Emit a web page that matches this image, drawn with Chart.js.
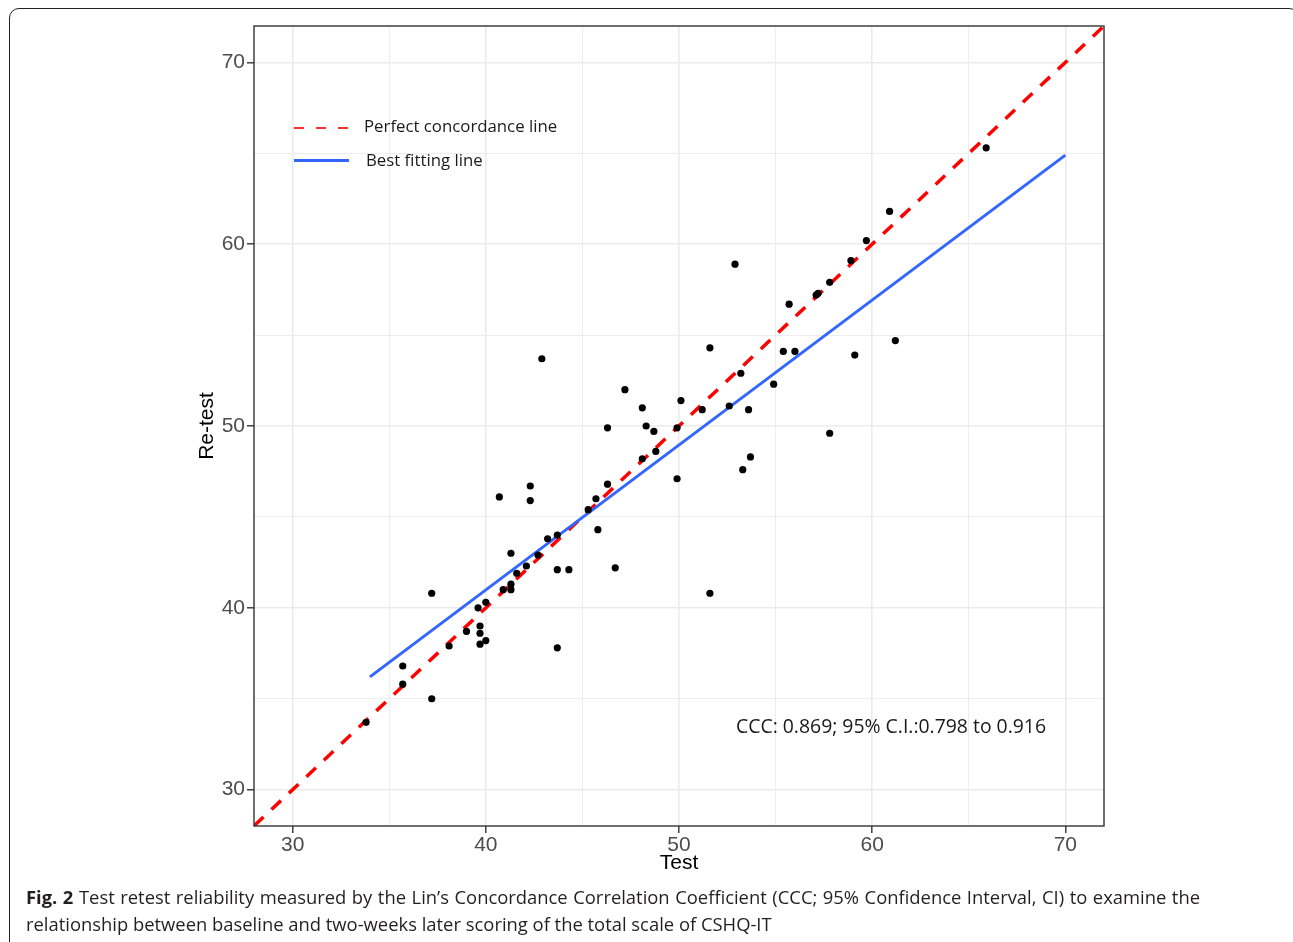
<!DOCTYPE html>
<html>
<head>
<meta charset="utf-8">
<script src="https://cdn.jsdelivr.net/npm/chart.js@4"></script>
<style>
  html, body { margin: 0; padding: 0; background: #fff; overflow: hidden; }
  #page { position: relative; width: 1293px; height: 942px; }
  #frame { position: absolute; left: 9px; top: 8px; width: 1290px; height: 960px; border: 1.5px solid #222; border-radius: 10px; box-sizing: border-box; }
  #chart { position: absolute; left: 0; top: 0; }
  .txt { position: absolute; font-family: "Open Sans", sans-serif; color: #1a1a1a; white-space: nowrap; }
  .swatch { position: absolute; width: 55px; }
  #caption { position: absolute; left: 26px; top: 883px; width: 1174px; font-family: "Open Sans", sans-serif; font-size: 18.4px; line-height: 27px; color: #231f20; text-align: justify; text-align-last: left; }
</style>
</head>
<body>
<div id="page">
  <div id="frame"></div>
  <canvas id="chart" width="1293" height="942"></canvas>
  <div class="swatch" style="left:294px; top:127px; height:2px; background:repeating-linear-gradient(to right, #ff3030 0 10px, rgba(255,255,255,0) 10px 22px);"></div>
  <div class="txt" style="left:364px; top:114px; font-size:16.8px;">Perfect concordance line</div>
  <div class="swatch" style="left:294px; top:159px; height:3px; background:#3366ff;"></div>
  <div class="txt" style="left:366px; top:148px; font-size:16.8px;">Best fitting line</div>
  <div class="txt" style="left:736px; top:712px; font-size:19.4px;">CCC: 0.869; 95% C.I.:0.798 to 0.916</div>
  <div id="caption"><b>Fig. 2</b> Test retest reliability measured by the Lin’s Concordance Correlation Coefficient (CCC; 95% Confidence Interval, CI) to examine the relationship between baseline and two-weeks later scoring of the total scale of CSHQ-IT</div>
</div>
<script>
// scores
const testScores = [33.8, 35.7, 35.7, 37.2, 37.2, 38.1, 39.0, 39.6, 39.7, 39.7, 39.7, 40.0, 40.0, 40.7, 40.9, 41.3, 41.3, 41.3, 41.6, 42.1, 42.3, 42.3, 42.7, 42.9, 43.2, 43.7, 43.7, 43.7, 44.3, 45.3, 45.7, 45.8, 46.3, 46.3, 46.7, 47.2, 48.1, 48.1, 48.3, 48.7, 48.8, 49.9, 49.9, 50.1, 51.2, 51.6, 51.6, 52.6, 52.9, 53.2, 53.3, 53.6, 53.7, 54.9, 55.4, 55.7, 56.0, 57.1, 57.2, 57.8, 57.8, 58.9, 59.1, 59.7, 60.9, 61.2, 65.9];
const retestScores = [33.7, 36.8, 35.8, 35.0, 40.8, 37.9, 38.7, 40.0, 39.0, 38.6, 38.0, 38.2, 40.3, 46.1, 41.0, 43.0, 41.0, 41.3, 41.9, 42.3, 46.7, 45.9, 42.9, 53.7, 43.8, 42.1, 44.0, 37.8, 42.1, 45.4, 46.0, 44.3, 49.9, 46.8, 42.2, 52.0, 51.0, 48.2, 50.0, 49.7, 48.6, 49.9, 47.1, 51.4, 50.9, 54.3, 40.8, 51.1, 58.9, 52.9, 47.6, 50.9, 48.3, 52.3, 54.1, 56.7, 54.1, 57.2, 57.3, 57.9, 49.6, 59.1, 53.9, 60.2, 61.8, 54.7, 65.3];

const concordX = [28, 72];
const concordY = [28, 72];
const fitX = [34, 70];
const fitY = [36.2, 64.9];

const axisMin = 28;
const axisMax = 72;
const tickStep = 5;
const labelStep = 10;

const toPoints = (xs, ys) => xs.map((x, i) => ({ x: x, y: ys[i] }));

const isMajor = (v) => Math.abs(v % labelStep) < 1e-6;

const panelBorder = {
    id: 'panelBorder',
    afterDraw(chart) {
        const a = chart.chartArea;
        const ctx = chart.ctx;
        ctx.save();
        ctx.strokeStyle = '#333333';
        ctx.lineWidth = 1.4;
        ctx.strokeRect(a.left, a.top, a.right - a.left, a.bottom - a.top);
        ctx.restore();
    }
};

const gridOpts = {
    color: (c) => '#ebebeb',
    lineWidth: (c) => isMajor(c.tick.value) ? 1.6 : 0.9,
    tickColor: (c) => isMajor(c.tick.value) ? '#333333' : 'rgba(0,0,0,0)',
    tickWidth: 1.4,
    tickLength: 7,
    drawTicks: true
};

const tickOpts = {
    stepSize: tickStep,
    includeBounds: false,
    autoSkip: false,
    maxRotation: 0,
    color: '#4d4d4d',
    font: { family: 'Liberation Sans, Arial, sans-serif', size: 21 },
    callback: (v) => isMajor(v) ? String(v) : ''
};

new Chart(document.getElementById('chart'), {
    type: 'scatter',
    data: {
        datasets: [{
            label: 'Scores',
            data: toPoints(testScores, retestScores),
            backgroundColor: '#000000',
            borderColor: '#000000',
            pointRadius: 3.6,
            pointBorderWidth: 0,
            order: 0
        }, {
            label: 'Perfect concordance line',
            data: toPoints(concordX, concordY),
            showLine: true,
            borderColor: '#ff0000',
            borderWidth: 3.5,
            borderDash: [13, 11],
            pointRadius: 0,
            order: 2
        }, {
            label: 'Best fitting line',
            data: toPoints(fitX, fitY),
            showLine: true,
            borderColor: '#3366ff',
            borderWidth: 3,
            pointRadius: 0,
            order: 1
        }]
    },
    options: {
        responsive: false,
        animation: false,
        layout: { padding: { left: 191, top: 26, right: 189, bottom: 62 } },
        plugins: {
            legend: { display: false },
            tooltip: { enabled: false }
        },
        scales: {
            x: {
                type: 'linear',
                min: axisMin,
                max: axisMax,
                grid: gridOpts,
                border: { display: false },
                ticks: Object.assign({}, tickOpts, { padding: 0 }),
                title: {
                    display: true,
                    text: 'Test',
                    color: '#000000',
                    font: { family: 'Liberation Sans, Arial, sans-serif', size: 21 },
                    padding: { top: 0, bottom: 4 }
                },
                afterFit: (scale) => { scale.height = 54; }
            },
            y: {
                type: 'linear',
                min: axisMin,
                max: axisMax,
                grid: gridOpts,
                border: { display: false },
                ticks: Object.assign({}, tickOpts, { padding: 2 }),
                title: {
                    display: true,
                    text: 'Re-test',
                    color: '#000000',
                    font: { family: 'Liberation Sans, Arial, sans-serif', size: 21 },
                    padding: { top: 4, bottom: 0 }
                },
                afterFit: (scale) => { scale.width = 63; }
            }
        }
    },
    plugins: [panelBorder]
});
</script>
</body>
</html>
